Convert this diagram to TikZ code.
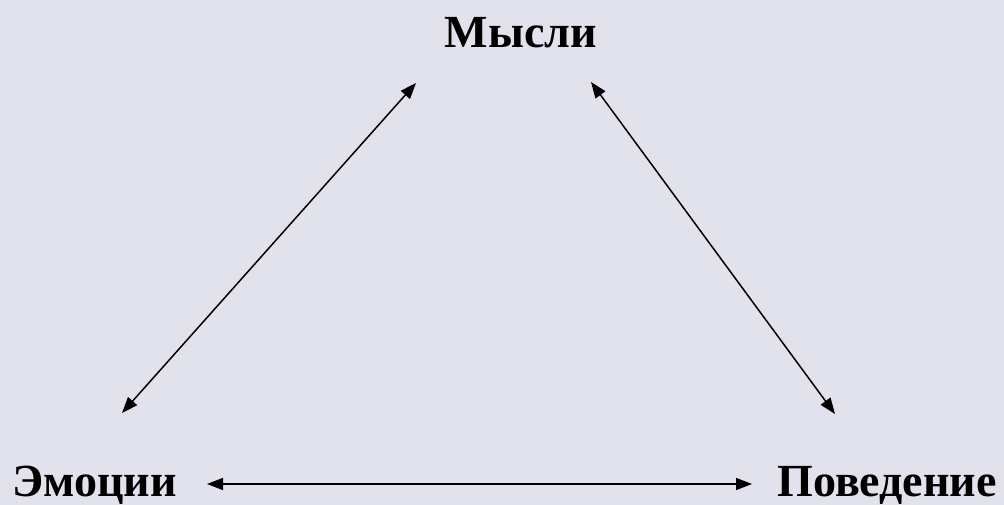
\documentclass[tikz,border=0pt]{standalone}
\usepackage{fontspec}
\setmainfont{Liberation Serif}
\usetikzlibrary{arrows.meta}
\definecolor{bg}{RGB}{226,226,236}
\tikzset{
  label/.style={font=\fontsize{46}{50}\selectfont\bfseries, inner sep=0pt, anchor=base},
  link/.style={line width=1.5pt, {Triangle[length=16pt,width=12pt]}-{Triangle[length=16pt,width=12pt]}}
}
\begin{document}
\begin{tikzpicture}[x=1pt,y=-1pt]
\fill[bg] (0,0) rectangle (1004,505);
\useasboundingbox (0,0) rectangle (1004,505);
\node[label] (thoughts) at (521,48) {Мысли};
\node[label, anchor=base west] (emotions) at (12,496) {Эмоции};
\node[label, anchor=base east] (behavior) at (997,496) {Поведение};
\coordinate (tl) at (416,83);
\coordinate (tr) at (591,82);
\coordinate (el) at (122,413);
\coordinate (br) at (835,414);
\coordinate (eb) at (207,484);
\coordinate (bb) at (752,484);
\draw[link] (el) -- (tl);
\draw[link] (tr) -- (br);
\draw[link] (eb) -- (bb);
\end{tikzpicture}
\end{document}
